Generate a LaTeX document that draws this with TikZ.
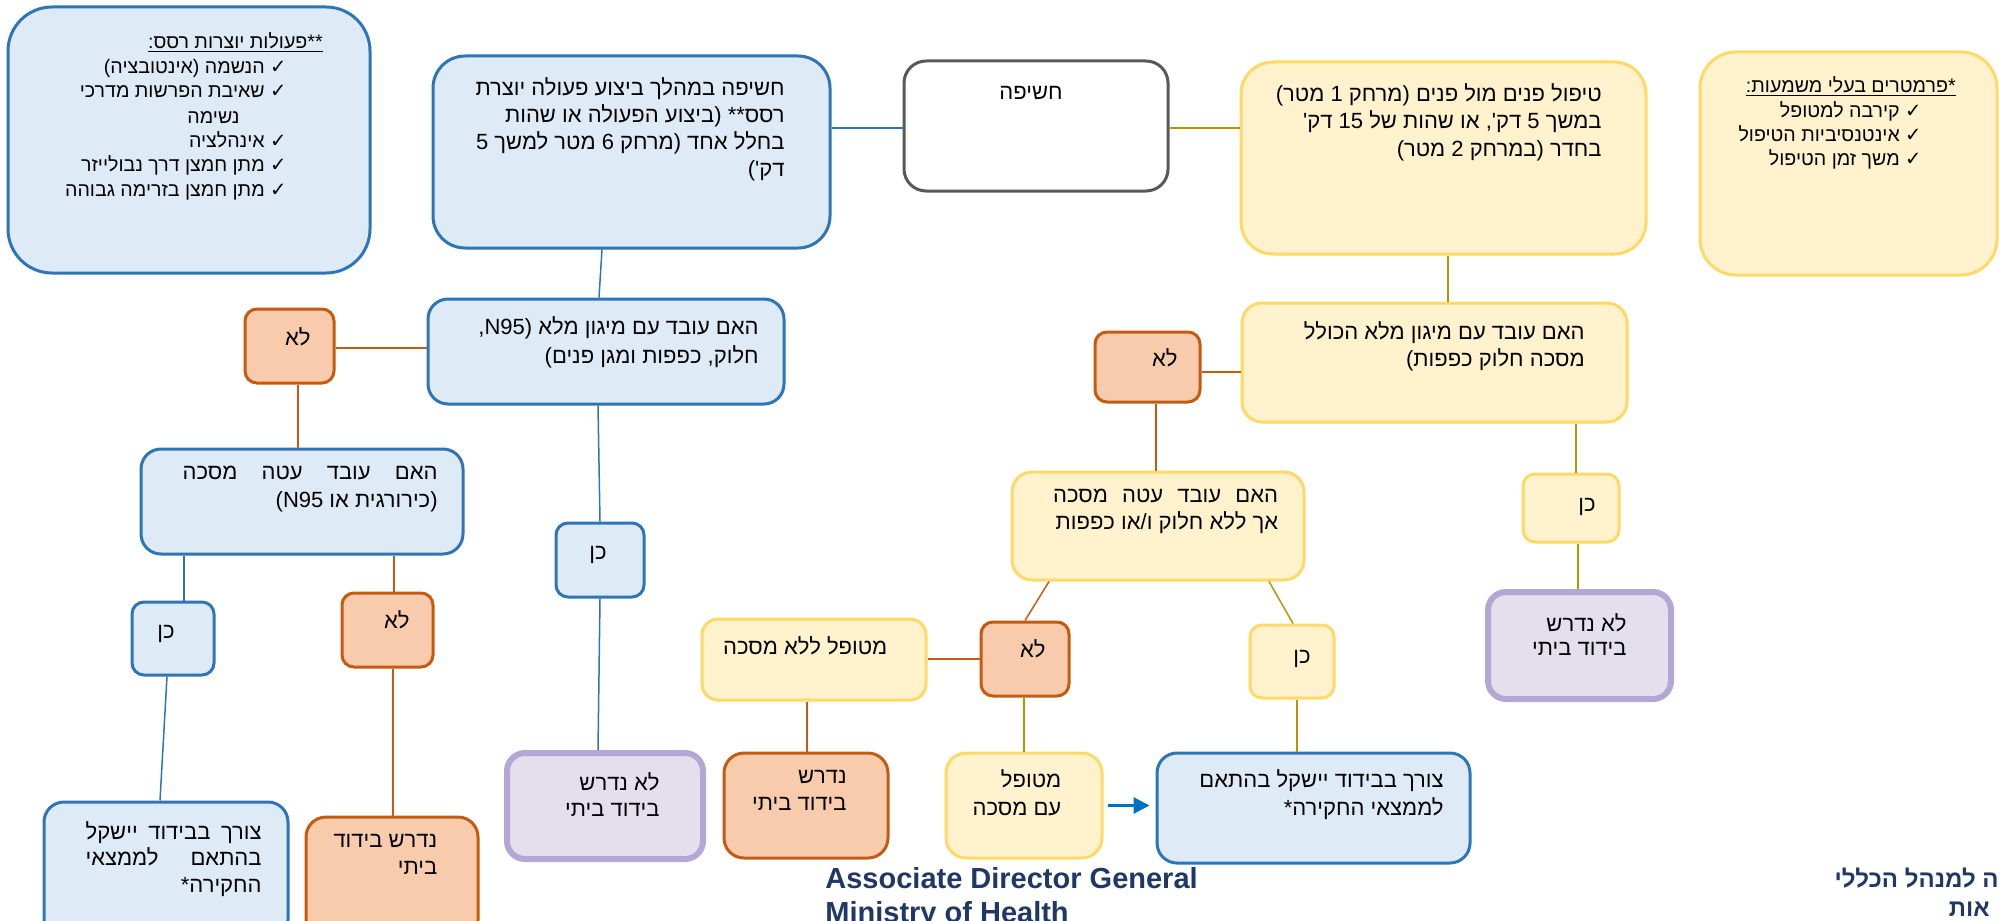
\documentclass[tikz,border=0pt]{standalone}
\usepackage{fontspec}
\setmainfont{Liberation Sans}
\newfontfamily\heb[Script=Hebrew]{Liberation Sans}
\newfontfamily\sym{DejaVu Sans}
\TeXXeTstate=1
\usetikzlibrary{arrows.meta}

\definecolor{bluefill}{HTML}{DEEBF7}
\definecolor{blueline}{HTML}{2E75B6}
\definecolor{orfill}{HTML}{F8CBAD}
\definecolor{orline}{HTML}{C55A11}
\definecolor{yefill}{HTML}{FFF2CC}
\definecolor{yeline}{HTML}{FFD966}
\definecolor{pufill}{HTML}{E4DFEC}
\definecolor{puline}{HTML}{B4A7D6}
\definecolor{grayline}{HTML}{595959}
\definecolor{gold}{HTML}{BF9000}
\definecolor{navy}{HTML}{1F3864}
\definecolor{arrblue}{HTML}{0070C0}

\newcommand\rl[1]{\beginR #1\endR}
\newcommand\ltr[1]{\beginL #1\endL}
\newcommand\jl[2]{\hbox to #1{\beginR #2\endR}}
\newcommand\fS{\heb\fontsize{9.8}{12.3}\selectfont}
\newcommand\fH[1]{\heb\fontsize{11}{#1}\selectfont}

\begin{document}
\begin{tikzpicture}[x=0.5pt, y=-0.5pt,
	box/.style={draw, line width=1.5pt, inner sep=0pt},
	bbox/.style={box, draw=blueline, fill=bluefill},
	obox/.style={box, draw=orline, fill=orfill},
	ybox/.style={box, draw=yeline, fill=yefill},
	pbox/.style={box, draw=puline, fill=pufill, line width=3pt},
	txt/.style={inner sep=0pt, align=right, anchor=north east, execute at begin node={\rule{0pt}{10pt}}},
	cb/.style={draw=blueline, line width=0.75pt},
	co/.style={draw=orline, line width=0.75pt},
	cy/.style={draw=gold, line width=0.75pt}]

	\useasboundingbox (0,0) rectangle (2000,920);
	\clip (0,0) rectangle (2000,920);

	% boxes
	\node[bbox, minimum width=181pt, minimum height=133pt, rounded corners=22pt] (aer) at (189,140) {};
	\node[bbox, minimum width=198.5pt, minimum height=96pt, rounded corners=16pt] (ea) at (631.5,152) {};
	\node[box, draw=grayline, fill=white, minimum width=132pt, minimum height=65pt, rounded corners=11pt] (exp) at (1036,126) {};
	\node[ybox, minimum width=202.5pt, minimum height=96pt, rounded corners=16pt] (ff) at (1443.5,158) {};
	\node[ybox, minimum width=148.5pt, minimum height=111.5pt, rounded corners=18pt] (par) at (1848.5,163.5) {};

	\node[bbox, minimum width=178pt, minimum height=52.5pt, rounded corners=10pt] (fpb) at (606,351.5) {};
	\node[obox, minimum width=44.5pt, minimum height=37pt, rounded corners=6pt] (noA) at (289.5,346) {};
	\node[bbox, minimum width=161pt, minimum height=52.5pt, rounded corners=10pt] (mb) at (302,501.5) {};
	\node[bbox, minimum width=44pt, minimum height=37pt, rounded corners=6pt] (yesB) at (600,560) {};
	\node[bbox, minimum width=41pt, minimum height=36.5pt, rounded corners=6pt] (yesA) at (173,638.5) {};
	\node[obox, minimum width=45.5pt, minimum height=37pt, rounded corners=6pt] (noB) at (387.5,630) {};
	\node[bbox, minimum width=122pt, minimum height=69pt, rounded corners=10pt] (resA) at (166,871) {};
	\node[obox, minimum width=86pt, minimum height=61.5pt, rounded corners=10pt] (isoA) at (392,878.5) {};
	\node[pbox, minimum width=98pt, minimum height=53pt, rounded corners=9pt] (nisoA) at (605,806) {};

	\node[ybox, minimum width=192.5pt, minimum height=59.5pt, rounded corners=10pt] (fpy) at (1434.5,362.5) {};
	\node[obox, minimum width=52.5pt, minimum height=35pt, rounded corners=6pt] (noC) at (1147.5,367) {};
	\node[ybox, minimum width=48pt, minimum height=34pt, rounded corners=6pt] (yesC) at (1571,508) {};
	\node[pbox, minimum width=91.5pt, minimum height=53.5pt, rounded corners=9pt] (nisoB) at (1579.5,645.5) {};
	\node[ybox, minimum width=146pt, minimum height=54pt, rounded corners=10pt] (my) at (1158,526) {};
	\node[obox, minimum width=44pt, minimum height=37pt, rounded corners=6pt] (noD) at (1025,659) {};
	\node[ybox, minimum width=42pt, minimum height=36.5pt, rounded corners=6pt] (yesD) at (1292,661.5) {};
	\node[ybox, minimum width=112pt, minimum height=40.5pt, rounded corners=8pt] (nomask) at (814,659.5) {};
	\node[obox, minimum width=82pt, minimum height=52.5pt, rounded corners=10pt] (isoB) at (806,805.5) {};
	\node[ybox, minimum width=78pt, minimum height=52.5pt, rounded corners=10pt] (mask) at (1024,805.5) {};
	\node[bbox, minimum width=156.5pt, minimum height=55pt, rounded corners=10pt] (resB) at (1313.5,808) {};

	% connectors
	\draw[cb] (ea.east |- 0,128) -- (exp.west |- 0,128);
	\draw[cy] (exp.east |- 0,128) -- (ff.west |- 0,128);
	\draw[cy] (ff.south -| 1448,0) -- (fpy.north -| 1448,0);
	\draw[co] (fpy.west |- 0,372) -- (noC.east |- 0,372);
	\draw[co] (noC.south -| 1156,0) -- (my.north -| 1156,0);
	\draw[cy] (fpy.south -| 1576,0) -- (yesC.north -| 1576,0);
	\draw[cy] (yesC.south -| 1578,0) -- (nisoB.north -| 1578,0);
	\draw[co] (my.south -| 1049,0) -- (noD.north -| 1025,0);
	\draw[cy] (my.south -| 1269,0) -- (yesD.north -| 1293,0);
	\draw[co] (nomask.east |- 0,659) -- (noD.west |- 0,659);
	\draw[co] (nomask.south -| 807,0) -- (isoB.north -| 807,0);
	\draw[cy] (noD.south -| 1024,0) -- (mask.north -| 1024,0);
	\draw[cy] (yesD.south -| 1297,0) -- (resB.north -| 1297,0);
	\draw[draw=arrblue, line width=1.5pt, -{Triangle[length=8pt,width=8pt]}, shorten <=2pt, shorten >=3pt] (mask.east) -- (resB.west |- mask.east);

	\draw[cb] (ea.south -| 602,0) -- (fpb.north -| 599,0);
	\draw[co] (fpb.west |- 0,348) -- (noA.east |- 0,348);
	\draw[co] (noA.south -| 298,0) -- (mb.north -| 298,0);
	\draw[cb] (fpb.south -| 598,0) -- (yesB.north -| 600,0);
	\draw[cb] (yesB.south -| 600,0) -- (nisoA.north -| 598,0);
	\draw[cb] (mb.south -| 184,0) -- (yesA.north -| 184,0);
	\draw[co] (mb.south -| 394,0) -- (noB.north -| 394,0);
	\draw[cb] (yesA.south -| 167,0) -- (resA.north -| 160,0);
	\draw[co] (noB.south -| 393,0) -- (isoA.north -| 393,0);

	% texts
	\node[txt, font=\fS] (aerH) at (323,28) {\underline{\rl{**פעולות יוצרות רסס:}}};
	\foreach \y/\t in {73/{הנשמה (אינטובציה)}, 97/{שאיבת הפרשות מדרכי}, 147/{אינהלציה}, 171/{מתן חמצן דרך נבולייזר}, 196/{מתן חמצן בזרימה גבוהה}}
	{
		\node[txt, font=\fS] (aer\y) at (287,\y-20) {\rl{{\sym ✓} \t}};
	}
	\node[txt, font=\fS] (aerN) at (240,103) {\rl{נשימה}};

	\node[txt, font=\fS] (parH) at (1956,72) {\underline{\rl{*פרמטרים בעלי משמעות:}}};
	\foreach \y/\t in {117/{קירבה למטופל}, 141/{אינטנסיביות הטיפול}, 165/{משך זמן הטיפול}}
	{
		\node[txt, font=\fS] (par\y) at (1922,\y-20) {\rl{{\sym ✓} \t}};
	}

	\node[txt, font={\fH{13.5}}] (eaT) at (785,77) {\rl{חשיפה במהלך ביצוע פעולה יוצרת}\\\rl{רסס** (ביצוע הפעולה או שהות}\\\rl{בחלל אחד (מרחק 6 מטר למשך 5}\\\rl{דק')}};
	\node[inner sep=0pt, anchor=base, font={\fH{13.5}}] (expT) at (1031,99) {\rl{חשיפה}};
	\node[txt, font={\fH{13.75}}] (ffT) at (1602,83) {\rl{טיפול פנים מול פנים (מרחק 1 מטר)}\\\rl{במשך 5 דק', או שהות של 15 דק'}\\\rl{בחדר (במרחק 2 מטר)}};

	\node[txt, font={\fH{14.5}}] (fpbT) at (759,316) {\rl{האם עובד עם מיגון מלא (\ltr{N95},}\\\rl{חלוק, כפפות ומגן פנים)}};
	\node[txt, font={\fH{14}}] (mbT) at (438,466) {\jl{127.5pt}{האם \hfill עובד \hfill עטה \hfill מסכה}\\\rl{(כירורגית או \ltr{N95})}};
	\node[txt, font={\fH{13.25}}] (resAT) at (262,821) {\jl{88pt}{צורך \hfill בבידוד \hfill יישקל}\\\jl{88pt}{בהתאם \hfill לממצאי}\\\rl{החקירה*}};
	\node[txt, font={\fH{13.5}}] (isoAT) at (437.6,834) {\rl{נדרש בידוד}\\\rl{ביתי}};
	\node[txt, font={\fH{13}}] (nisoAT) at (660,772) {\rl{לא נדרש}\\\rl{בידוד ביתי}};

	\node[txt, font={\fH{13.5}}] (fpyT) at (1585,321) {\rl{האם עובד עם מיגון מלא הכולל}\\\rl{מסכה חלוק כפפות)}};
	\node[txt, font={\fH{13.5}}] (myT) at (1278.5,489) {\jl{112.5pt}{האם \hfill עובד \hfill עטה \hfill מסכה}\\\rl{אך ללא חלוק ו/או כפפות}};
	\node[txt, font={\fH{12}}] (nisoBT) at (1627,613) {\rl{לא נדרש}\\\rl{בידוד ביתי}};
	\node[txt, font={\fH{13.5}}] (nomaskT) at (887.7,634) {\rl{מטופל ללא מסכה}};
	\node[txt, font={\fH{13.5}}] (isoBT) at (847,770) {\rl{נדרש}\\\rl{בידוד ביתי}};
	\node[txt, font={\fH{14}}] (maskT) at (1061.6,769) {\rl{מטופל}\\\rl{עם מסכה}};
	\node[txt, font={\fH{14}}] (resBT) at (1444,769) {\rl{צורך בבידוד יישקל בהתאם}\\\rl{לממצאי החקירה*}};

	\node[txt, font={\fH{13.5}}] (noAT) at (311,325) {\rl{לא}};
	\node[txt, font={\fH{13.5}}] (yesBT) at (607,539) {\rl{כן}};
	\node[txt, font={\fH{13.5}}] (yesAT) at (175,618) {\rl{כן}};
	\node[txt, font={\fH{13.5}}] (noBT) at (410,608) {\rl{לא}};
	\node[txt, font={\fH{13.5}}] (noCT) at (1178,346) {\rl{לא}};
	\node[txt, font={\fH{13.5}}] (yesCT) at (1596,491) {\rl{כן}};
	\node[txt, font={\fH{13.5}}] (noDT) at (1046,637) {\rl{לא}};
	\node[txt, font={\fH{13.5}}] (yesDT) at (1311,643) {\rl{כן}};

	% footer
	\node[inner sep=0pt, anchor=base west, text=navy, font=\bfseries\fontsize{14.5}{17}\selectfont] (adg) at (825,888) {Associate Director General};
	\node[inner sep=0pt, anchor=base west, text=navy, font=\bfseries\fontsize{14.5}{17}\selectfont] (moh) at (825,922) {Ministry of Health};
	\node[inner sep=0pt, anchor=base east, text=navy, font=\heb\bfseries\fontsize{12}{15}\selectfont] (mnk) at (1999,887) {\rl{ה למנהל הכללי}};
	\node[inner sep=0pt, anchor=base east, text=navy, font=\heb\bfseries\fontsize{12}{15}\selectfont] (bri) at (1990,916) {\rl{אות}};

\end{tikzpicture}
\end{document}
